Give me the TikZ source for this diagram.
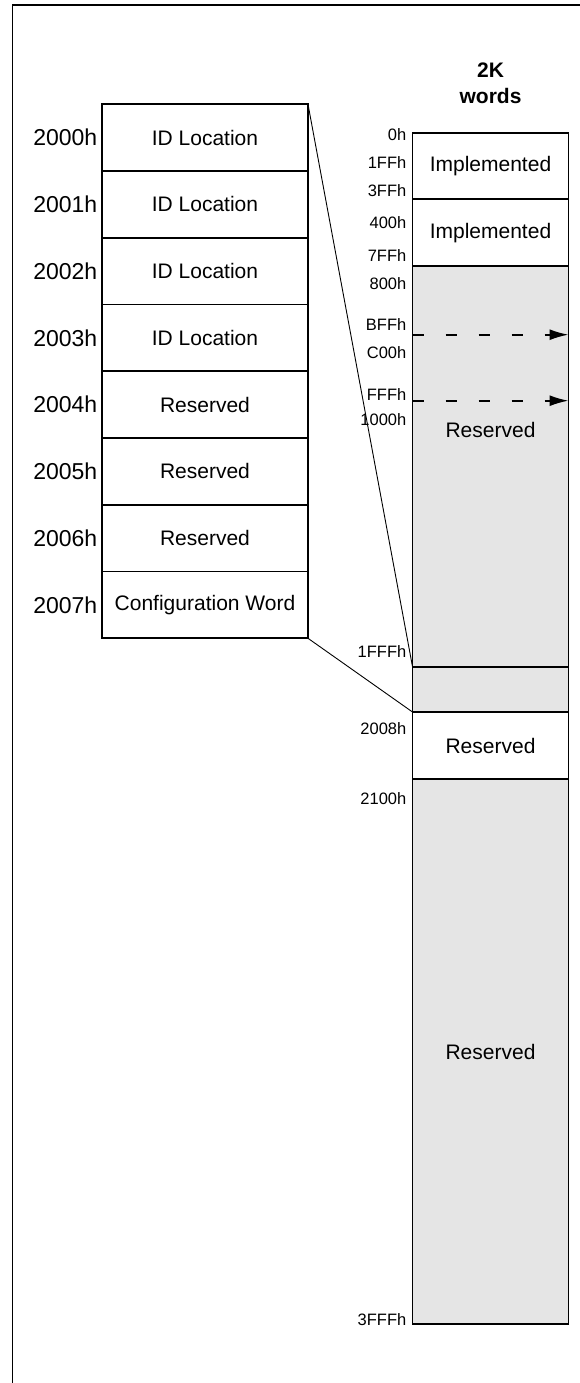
\documentclass[tikz,border=0pt]{standalone}
\usepackage{fontspec}
\setmainfont{Liberation Sans}
\usetikzlibrary{positioning,arrows.meta}
\newcommand{\cellfont}{\fontsize{21}{26}\selectfont}
\newcommand{\addrfont}{\fontsize{23}{27}\selectfont}
\newcommand{\memfont}{\fontsize{16.5}{20}\selectfont}

\begin{document}
\begin{tikzpicture}[x=1pt,y=-1pt,
        idcell/.style={draw,line width=1.8pt,outer sep=0pt,inner sep=0pt,minimum width=206pt,minimum height=66.75pt,font=\cellfont},
        memcell/.style={draw,line width=1.8pt,outer sep=0pt,inner sep=0pt,minimum width=156pt,font=\cellfont},
        reserved/.style={memcell,fill=black!10},
        addr/.style={anchor=east,inner sep=0pt,font=\addrfont},
        memaddr/.style={anchor=east,inner sep=0pt,font=\memfont},
        zoomline/.style={line width=0.9pt},
        dasharrow/.style={line width=1.8pt,dash pattern=on 11pt off 22pt,-{Latex[length=19pt,width=11pt]}}]
    \useasboundingbox (0,0) rectangle (580,1383);
    \draw[line width=1.8pt] (12.5,1383) |- (580,5);

    \foreach \a/\txt [count=\i] in {2000h/ID Location,2001h/ID Location,2002h/ID Location,2003h/ID Location,2004h/Reserved,2005h/Reserved,2006h/Reserved,2007h/Configuration Word}{
        \node[idcell] (id\i) at (205,{104.3+66.75*(\i-0.5)}) {\txt};
        \node[addr] (a\i) at ([xshift=-4.5pt]id\i.west) {\a};
    }

    \node[font=\bfseries\cellfont,align=center] (size) at (490.5,83.5) {2K\\words};
    \node[memcell,minimum height=66.6pt] (impl1) at (490.5,166) {Implemented};
    \node[memcell,minimum height=66.7pt,below=0pt of impl1] (impl2) {Implemented};
    \node[reserved,minimum height=400.7pt,below=0pt of impl2] (res1) {};
    \node[reserved,minimum height=45.3pt,below=0pt of res1] (cfgslot) {};
    \node[memcell,minimum height=67pt,below=0pt of cfgslot] (res2) {Reserved};
    \node[reserved,minimum height=545.3pt,below=0pt of res2] (res3) {Reserved};
    \node[font=\cellfont] (res1txt) at (490.5,430) {Reserved};

    \foreach \y/\a in {134.5/0h,162.5/1FFh,191/3FFh,223/400h,256/7FFh,284/800h,324.5/BFFh,352.5/C00h,395/FFFh,420/1000h,651.5/1FFFh,728.5/2008h,798.5/2100h,1320/3FFFh}
        \node[memaddr] (m\a) at (406.5,\y) {\a};

    \coordinate (bff) at (412.5,334.7);
    \coordinate (fff) at (412.5,400.7);
    \draw[dasharrow] (bff) -- (bff -| res1.east);
    \draw[dasharrow] (fff) -- (fff -| res1.east);

    \draw[zoomline] (id1.north east) -- (cfgslot.north west);
    \draw[zoomline] (id8.south east) -- (cfgslot.south west);
\end{tikzpicture}
\end{document}
